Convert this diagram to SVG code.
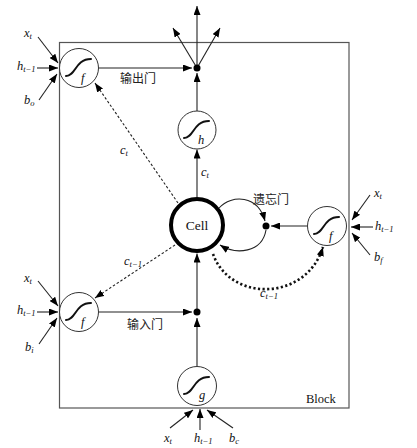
<svg xmlns="http://www.w3.org/2000/svg" width="417" height="448" viewBox="0 0 417 448">
<style>
.gate{fill:#fff;stroke:#333;stroke-width:1}
.sig{fill:none;stroke:#111;stroke-width:2;stroke-linecap:round}
.serif{font-family:"Liberation Serif","Times New Roman","DejaVu Serif",serif;fill:#111}
.lt{font-family:"Liberation Serif","Times New Roman","DejaVu Serif",serif;font-style:italic;font-size:12.5px;fill:#111}
.sub{font-size:8.5px}
.cn{font-family:"Noto Sans CJK SC","Noto Sans",sans-serif;font-size:12px;fill:#222}
.ln{fill:none;stroke:#222;stroke-width:1.1}
.dash{fill:none;stroke:#222;stroke-width:1.1;stroke-dasharray:2.5,2}
.dots{fill:none;stroke:#111;stroke-width:2.6;stroke-dasharray:2.2,2.4}
.dot{fill:#000}
</style>
<defs>
<marker id="ar" markerUnits="userSpaceOnUse" markerWidth="9" markerHeight="7" refX="9" refY="3.5" orient="auto"><path d="M0,0 L9,3.5 L0,7 z" fill="#000"/></marker>
<path id="sg" d="M-13,8 C-3,8 -4,-9 12,-9"/>
</defs>
<rect id="block" x="59.5" y="42.5" width="289.5" height="365.5" fill="none" stroke="#555" stroke-width="1.2"/>
<text class="serif" x="306" y="403" font-size="12.5">Block</text>

<g id="connectors">
<line class="ln" x1="98.5" y1="68" x2="192" y2="68" marker-end="url(#ar)"/>
<line class="ln" x1="197" y1="68" x2="197" y2="6" marker-end="url(#ar)"/>
<line class="ln" x1="197" y1="68" x2="173" y2="28" marker-end="url(#ar)"/>
<line class="ln" x1="197" y1="68" x2="220" y2="28" marker-end="url(#ar)"/>
<line class="ln" x1="197" y1="111" x2="197" y2="73" marker-end="url(#ar)"/>
<line class="ln" x1="197" y1="197" x2="197" y2="149.5" marker-end="url(#ar)"/>
<line class="ln" x1="197" y1="366.5" x2="197" y2="318" marker-end="url(#ar)"/>
<line class="ln" x1="98.5" y1="312" x2="192" y2="312" marker-end="url(#ar)"/>
<line class="ln" x1="197" y1="312" x2="197" y2="253.5" marker-end="url(#ar)"/>
<line class="ln" x1="307.5" y1="226" x2="271" y2="226" marker-end="url(#ar)"/>
<path class="ln" d="M219,208 C232,194 258,195 265,221" stroke-width="1.6" marker-end="url(#ar)"/>
<path class="ln" d="M266,230 C262,253 236,255 220,245" stroke-width="1.6" marker-end="url(#ar)"/>
<path class="dots" d="M213,254 C230,302 306,302 323,247" marker-end="url(#ar)"/>
<line class="dash" x1="178" y1="203" x2="95" y2="83" marker-end="url(#ar)"/>
<line class="dash" x1="175" y1="245" x2="95" y2="298" marker-end="url(#ar)"/>
<line class="ln" x1="38" y1="37" x2="58" y2="63" marker-end="url(#ar)"/>
<line class="ln" x1="37" y1="68" x2="58" y2="68" marker-end="url(#ar)"/>
<line class="ln" x1="39" y1="100" x2="57" y2="74" marker-end="url(#ar)"/>
<line class="ln" x1="38" y1="281" x2="58" y2="306" marker-end="url(#ar)"/>
<line class="ln" x1="37" y1="312" x2="58" y2="312" marker-end="url(#ar)"/>
<line class="ln" x1="39" y1="344" x2="57" y2="318" marker-end="url(#ar)"/>
<line class="ln" x1="370" y1="195" x2="352" y2="220" marker-end="url(#ar)"/>
<line class="ln" x1="373" y1="227" x2="351" y2="227" marker-end="url(#ar)"/>
<line class="ln" x1="370" y1="255" x2="352" y2="233" marker-end="url(#ar)"/>
<line class="ln" x1="170" y1="428" x2="193" y2="410" marker-end="url(#ar)"/>
<line class="ln" x1="200" y1="430" x2="200" y2="409" marker-end="url(#ar)"/>
<line class="ln" x1="233" y1="428" x2="207" y2="410" marker-end="url(#ar)"/>
<circle class="dot" cx="197" cy="68" r="3.5"/>
<circle class="dot" cx="197" cy="312" r="3.5"/>
<circle class="dot" cx="266" cy="226" r="3.5"/>
</g>

<g id="output-gate">
<circle class="gate" cx="79" cy="68" r="19.5"/>
<use href="#sg" x="79" y="68" class="sig"/>
<text class="lt" x="81" y="82">f</text>
</g>
<g id="h-node">
<circle class="gate" cx="197" cy="130" r="19"/>
<use href="#sg" x="197" y="130" class="sig"/>
<text class="lt" x="198" y="144">h</text>
</g>
<g id="cell">
<circle cx="197" cy="225" r="26" fill="#fff" stroke="#000" stroke-width="4"/>
<text class="serif" x="197" y="229.5" text-anchor="middle" font-size="13.5">Cell</text>
</g>
<g id="forget-gate">
<circle class="gate" cx="327" cy="226" r="19.5"/>
<use href="#sg" x="327" y="226" class="sig"/>
<text class="lt" x="329" y="240">f</text>
</g>
<g id="input-gate">
<circle class="gate" cx="79" cy="312" r="19.5"/>
<use href="#sg" x="79" y="312" class="sig"/>
<text class="lt" x="81" y="326">f</text>
</g>
<g id="g-node">
<circle class="gate" cx="197" cy="386" r="19.5"/>
<use href="#sg" x="197" y="386" class="sig"/>
<text class="lt" x="199" y="399">g</text>
</g>

<g id="labels">
<text class="cn" x="120" y="83">输出门</text>
<text class="cn" x="127" y="329">输入门</text>
<text class="cn" x="253" y="204">遗忘门</text>
<text class="lt" x="201" y="176">c<tspan class="sub" dy="2">t</tspan></text>
<text class="lt" x="120" y="154">c<tspan class="sub" dy="2">t</tspan></text>
<text class="lt" x="124" y="265">c<tspan class="sub" dy="2">t−1</tspan></text>
<text class="lt" x="260" y="297">c<tspan class="sub" dy="2">t−1</tspan></text>
<text class="lt" x="24" y="37">x<tspan class="sub" dy="2">t</tspan></text>
<text class="lt" x="17" y="70">h<tspan class="sub" dy="2">t−1</tspan></text>
<text class="lt" x="24" y="104">b<tspan class="sub" dy="2">o</tspan></text>
<text class="lt" x="24" y="282">x<tspan class="sub" dy="2">t</tspan></text>
<text class="lt" x="17" y="314">h<tspan class="sub" dy="2">t−1</tspan></text>
<text class="lt" x="25" y="351">b<tspan class="sub" dy="2">i</tspan></text>
<text class="lt" x="374" y="197">x<tspan class="sub" dy="2">t</tspan></text>
<text class="lt" x="375" y="230">h<tspan class="sub" dy="2">t−1</tspan></text>
<text class="lt" x="374" y="261">b<tspan class="sub" dy="2">f</tspan></text>
<text class="lt" x="164" y="442">x<tspan class="sub" dy="2">t</tspan></text>
<text class="lt" x="194" y="442">h<tspan class="sub" dy="2">t−1</tspan></text>
<text class="lt" x="229" y="442">b<tspan class="sub" dy="2">c</tspan></text>
</g>
</svg>
